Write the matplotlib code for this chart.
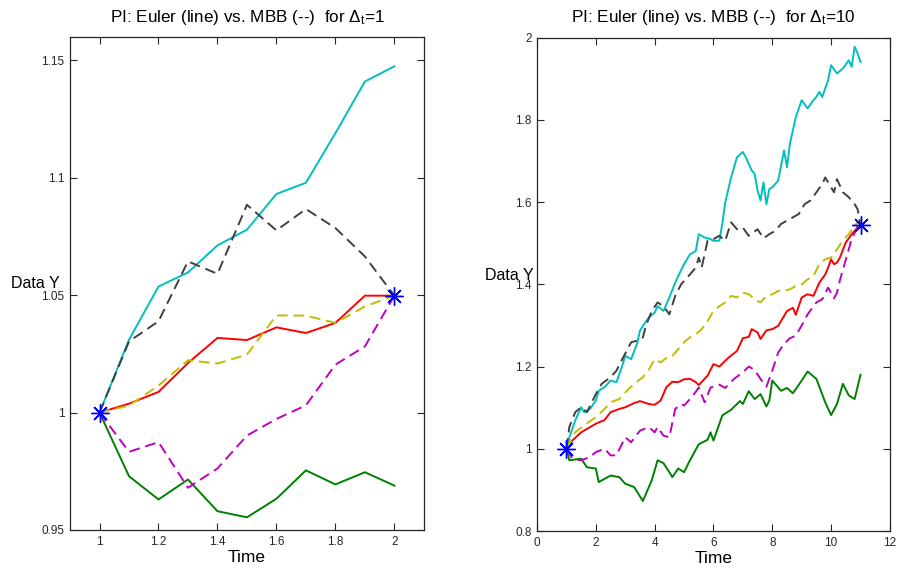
import numpy as np
import matplotlib
matplotlib.use("Agg")
import matplotlib.pyplot as plt

# ---- left panel (Delta_t = 1), common time grid ----
t_left = [1.0, 1.1, 1.2, 1.3, 1.4, 1.5, 1.6, 1.7, 1.8, 1.9, 2.0]
euler_green_l = [1.0, 0.9729, 0.963, 0.9715, 0.958, 0.9554, 0.9633, 0.9754, 0.9694, 0.9746, 0.9689]
euler_red_l = [1.0, 1.0038, 1.0088, 1.0211, 1.0318, 1.0309, 1.0363, 1.0339, 1.0382, 1.0498, 1.0498]
euler_cyan_l = [1.0, 1.031, 1.0537, 1.0597, 1.0712, 1.0779, 1.0931, 1.0979, 1.119, 1.141, 1.1475]
mbb_magenta_l = [1.0, 0.9833, 0.9874, 0.968, 0.9762, 0.9902, 0.9973, 1.0031, 1.0204, 1.0282, 1.0498]
mbb_yellow_l = [1.0, 1.003, 1.0115, 1.0223, 1.0209, 1.0247, 1.0414, 1.0413, 1.0382, 1.0452, 1.0498]
mbb_black_l = [1.0, 1.0303, 1.0389, 1.0644, 1.0591, 1.0885, 1.0776, 1.0867, 1.0786, 1.0665, 1.0498]
ends_left_t = [1.0, 2.0]
ends_left_y = [1.0, 1.0498]

# ---- right panel (Delta_t = 10) ----
green_t = [1.0, 1.1, 1.5, 1.7, 2.0, 2.1, 2.5, 2.8, 3.0, 3.3, 3.6, 3.9, 4.1, 4.3, 4.5, 4.6, 4.8,
           5.0, 5.2, 5.5, 5.8, 5.9, 6.0, 6.3, 6.6, 6.9, 7.0, 7.2, 7.4, 7.6, 7.8, 7.9, 8.0, 8.3,
           8.5, 8.7, 9.0, 9.2, 9.5, 9.8, 10.0, 10.2, 10.4, 10.6, 10.8, 11.0]
green_y = [1.0, 0.972, 0.976, 0.955, 0.952, 0.919, 0.935, 0.931, 0.915, 0.907, 0.873, 0.923,
           0.972, 0.965, 0.943, 0.931, 0.952, 0.943, 0.972, 1.011, 1.022, 1.040, 1.020, 1.081,
           1.095, 1.116, 1.109, 1.140, 1.121, 1.133, 1.103, 1.117, 1.166, 1.141, 1.148, 1.135,
           1.166, 1.188, 1.170, 1.113, 1.082, 1.109, 1.158, 1.130, 1.121, 1.180]

red_t = [1.0, 1.2, 1.5, 2.0, 2.3, 2.5, 2.8, 3.0, 3.3, 3.5, 3.8, 4.0, 4.2, 4.4, 4.6, 4.8, 5.0,
         5.2, 5.4, 5.5, 5.8, 6.0, 6.2, 6.5, 6.8, 7.0, 7.2, 7.3, 7.5, 7.6, 7.8, 8.0, 8.2, 8.5,
         8.7, 8.8, 9.0, 9.2, 9.4, 9.6, 9.8, 9.9, 10.0, 10.1, 10.2, 10.3, 10.5, 10.7, 10.9, 11.0]
red_y = [1.0, 1.020, 1.040, 1.061, 1.070, 1.089, 1.097, 1.101, 1.111, 1.116, 1.109, 1.107,
         1.117, 1.150, 1.163, 1.162, 1.169, 1.170, 1.162, 1.155, 1.178, 1.206, 1.200, 1.221,
         1.238, 1.269, 1.272, 1.291, 1.283, 1.267, 1.288, 1.291, 1.299, 1.335, 1.343, 1.326,
         1.368, 1.376, 1.372, 1.404, 1.424, 1.441, 1.461, 1.449, 1.453, 1.465, 1.502, 1.522,
         1.538, 1.545]

cyan_t = [1.0, 1.1, 1.3, 1.5, 1.6, 1.8, 2.0, 2.1, 2.3, 2.5, 2.7, 2.9, 3.0, 3.2, 3.4, 3.5, 3.6,
          3.8, 4.0, 4.1, 4.3, 4.4, 4.5, 4.7, 4.8, 5.0, 5.2, 5.4, 5.5, 5.7, 5.9, 6.0, 6.2, 6.3,
          6.4, 6.6, 6.8, 7.0, 7.1, 7.3, 7.4, 7.5, 7.6, 7.7, 7.8, 7.9, 8.0, 8.2, 8.4, 8.5, 8.6,
          8.8, 9.0, 9.2, 9.4, 9.5, 9.6, 9.7, 9.9, 10.0, 10.2, 10.4, 10.6, 10.7, 10.8, 10.9, 11.0]
cyan_y = [1.0, 1.028, 1.069, 1.101, 1.089, 1.097, 1.117, 1.141, 1.150, 1.166, 1.162, 1.202,
          1.226, 1.218, 1.255, 1.287, 1.299, 1.319, 1.331, 1.347, 1.335, 1.352, 1.368, 1.404,
          1.420, 1.449, 1.473, 1.481, 1.522, 1.514, 1.510, 1.506, 1.506, 1.547, 1.599, 1.660,
          1.709, 1.722, 1.709, 1.677, 1.669, 1.628, 1.604, 1.648, 1.595, 1.632, 1.636, 1.652,
          1.726, 1.685, 1.742, 1.807, 1.848, 1.828, 1.848, 1.856, 1.868, 1.856, 1.897, 1.933,
          1.913, 1.925, 1.945, 1.929, 1.978, 1.962, 1.941]

magenta_t = [1.0, 1.2, 1.5, 1.8, 2.0, 2.3, 2.5, 2.7, 3.0, 3.2, 3.5, 3.8, 4.0, 4.1, 4.3, 4.5,
             4.7, 4.9, 5.0, 5.3, 5.5, 5.7, 5.9, 6.2, 6.4, 6.7, 7.0, 7.2, 7.4, 7.6, 7.8, 8.0,
             8.2, 8.4, 8.6, 8.8, 9.0, 9.2, 9.5, 9.7, 9.9, 10.1, 10.2, 10.3, 10.5, 10.7, 10.9, 11.0]
magenta_y = [1.0, 0.976, 0.972, 0.980, 0.992, 1.000, 0.984, 0.984, 1.028, 1.016, 1.044, 1.053,
             1.040, 1.053, 1.032, 1.028, 1.097, 1.109, 1.105, 1.129, 1.149, 1.113, 1.149, 1.156,
             1.148, 1.170, 1.186, 1.200, 1.192, 1.170, 1.151, 1.190, 1.234, 1.255, 1.269, 1.275,
             1.300, 1.327, 1.356, 1.364, 1.392, 1.366, 1.380, 1.410, 1.460, 1.510, 1.540, 1.545]

yellow_t = [1.0, 1.3, 1.6, 2.0, 2.3, 2.5, 2.8, 3.0, 3.3, 3.6, 3.8, 4.0, 4.2, 4.4, 4.6, 4.8, 5.0,
            5.2, 5.4, 5.6, 5.8, 6.0, 6.2, 6.4, 6.6, 6.8, 7.0, 7.2, 7.4, 7.6, 7.8, 8.0, 8.2, 8.4,
            8.6, 8.8, 9.0, 9.2, 9.4, 9.6, 9.8, 10.0, 10.2, 10.4, 10.6, 10.8, 10.9, 11.0]
yellow_y = [1.0, 1.040, 1.057, 1.077, 1.097, 1.113, 1.121, 1.137, 1.158, 1.174, 1.192, 1.218,
            1.210, 1.221, 1.226, 1.242, 1.259, 1.271, 1.279, 1.291, 1.311, 1.335, 1.347, 1.356,
            1.372, 1.368, 1.380, 1.376, 1.364, 1.356, 1.372, 1.376, 1.384, 1.384, 1.388, 1.396,
            1.400, 1.412, 1.420, 1.449, 1.461, 1.465, 1.485, 1.507, 1.522, 1.542, 1.551, 1.545]

black_t = [1.0, 1.1, 1.3, 1.5, 1.7, 2.0, 2.2, 2.5, 2.7, 2.9, 3.2, 3.4, 3.6, 3.7, 3.9, 4.1, 4.3,
           4.5, 4.7, 4.9, 5.2, 5.4, 5.5, 5.6, 5.8, 6.0, 6.2, 6.4, 6.6, 6.8, 7.0, 7.2, 7.5, 7.7,
           7.9, 8.1, 8.3, 8.5, 8.7, 8.9, 9.1, 9.3, 9.5, 9.7, 9.8, 10.0, 10.1, 10.2, 10.4, 10.6,
           10.8, 10.9, 11.0]
black_y = [1.0, 1.053, 1.089, 1.101, 1.089, 1.133, 1.158, 1.174, 1.190, 1.218, 1.259, 1.263,
           1.271, 1.299, 1.335, 1.356, 1.347, 1.327, 1.372, 1.400, 1.424, 1.441, 1.465, 1.441,
           1.506, 1.510, 1.518, 1.506, 1.551, 1.534, 1.538, 1.518, 1.534, 1.512, 1.522, 1.530,
           1.547, 1.555, 1.563, 1.571, 1.595, 1.604, 1.624, 1.644, 1.660, 1.636, 1.624, 1.656,
           1.624, 1.612, 1.595, 1.583, 1.545]
ends_right_t = [1.0, 11.0]
ends_right_y = [1.0, 1.545]

# MATLAB default colour order
C_GREEN = '#008000'
C_RED = '#ff0000'
C_CYAN = '#00bfbf'
C_MAGENTA = '#bf00bf'
C_YELLOW = '#bfbf00'
C_BLACK = '#404040'
C_BLUE = '#0000ff'

plt.rcParams['font.family'] = ['Liberation Sans', 'DejaVu Sans']
plt.rcParams['mathtext.fontset'] = 'custom'
plt.rcParams['mathtext.rm'] = 'Liberation Sans'
plt.rcParams['mathtext.it'] = 'Liberation Sans'

fig = plt.figure(figsize=(8.98, 5.70), dpi=100)
ax1 = fig.add_axes([0.078, 0.0702, 0.394, 0.865])
ax2 = fig.add_axes([0.598, 0.0684, 0.393, 0.8655])

LW = 1.4
DASH = (5.5, 3)
STAR = dict(marker=(8, 2, 0), markersize=13, markeredgewidth=1.0, color=C_BLUE, linestyle='none')


def style_axes(ax, xticks, yticks, xlim, ylim, title, ylab_x, ylab_y):
    ax.set_xlim(*xlim)
    ax.set_ylim(*ylim)
    ax.set_xticks(xticks)
    ax.set_yticks(yticks)
    ax.set_xticklabels(['%g' % v for v in xticks])
    ax.set_yticklabels(['%g' % v for v in yticks])
    ax.tick_params(direction='in', top=True, right=True, length=5, width=0.8,
                   labelsize=8.5, colors='#262626', pad=4)
    for s in ax.spines.values():
        s.set_color('#262626')
        s.set_linewidth(0.9)
    ax.set_title(title, fontsize=12.3, pad=11)
    ax.set_xlabel('Time', fontsize=12.5, labelpad=2)
    ax.set_ylabel('Data Y', fontsize=11.5, rotation=0, ha='right', va='center')
    ax.yaxis.set_label_coords(ylab_x, ylab_y)


# left panel
ax1.plot(t_left, euler_green_l, color=C_GREEN, lw=LW)
ax1.plot(t_left, euler_red_l, color=C_RED, lw=LW)
ax1.plot(t_left, euler_cyan_l, color=C_CYAN, lw=LW)
ax1.plot(t_left, mbb_magenta_l, color=C_MAGENTA, lw=LW, dashes=DASH)
ax1.plot(t_left, mbb_yellow_l, color=C_YELLOW, lw=LW, dashes=DASH)
ax1.plot(t_left, mbb_black_l, color=C_BLACK, lw=LW, dashes=DASH)
ax1.plot(ends_left_t, ends_left_y, **STAR)
style_axes(ax1, [1, 1.2, 1.4, 1.6, 1.8, 2], [0.95, 1, 1.05, 1.1, 1.15],
           (0.9, 2.1), (0.95, 1.16),
           'PI: Euler (line) vs. MBB (--)  for Δ$_\\mathrm{t}$=1', -0.028, 0.50)

# right panel
ax2.plot(green_t, green_y, color=C_GREEN, lw=LW)
ax2.plot(red_t, red_y, color=C_RED, lw=LW)
ax2.plot(cyan_t, cyan_y, color=C_CYAN, lw=LW)
ax2.plot(magenta_t, magenta_y, color=C_MAGENTA, lw=LW, dashes=DASH)
ax2.plot(yellow_t, yellow_y, color=C_YELLOW, lw=LW, dashes=DASH)
ax2.plot(black_t, black_y, color=C_BLACK, lw=LW, dashes=DASH)
ax2.plot(ends_right_t, ends_right_y, **STAR)
style_axes(ax2, [0, 2, 4, 6, 8, 10, 12], [0.8, 1, 1.2, 1.4, 1.6, 1.8, 2],
           (0, 12), (0.8, 2.0),
           'PI: Euler (line) vs. MBB (--)  for Δ$_\\mathrm{t}$=10', -0.01, 0.517)

fig.savefig('out.png', dpi=100)
